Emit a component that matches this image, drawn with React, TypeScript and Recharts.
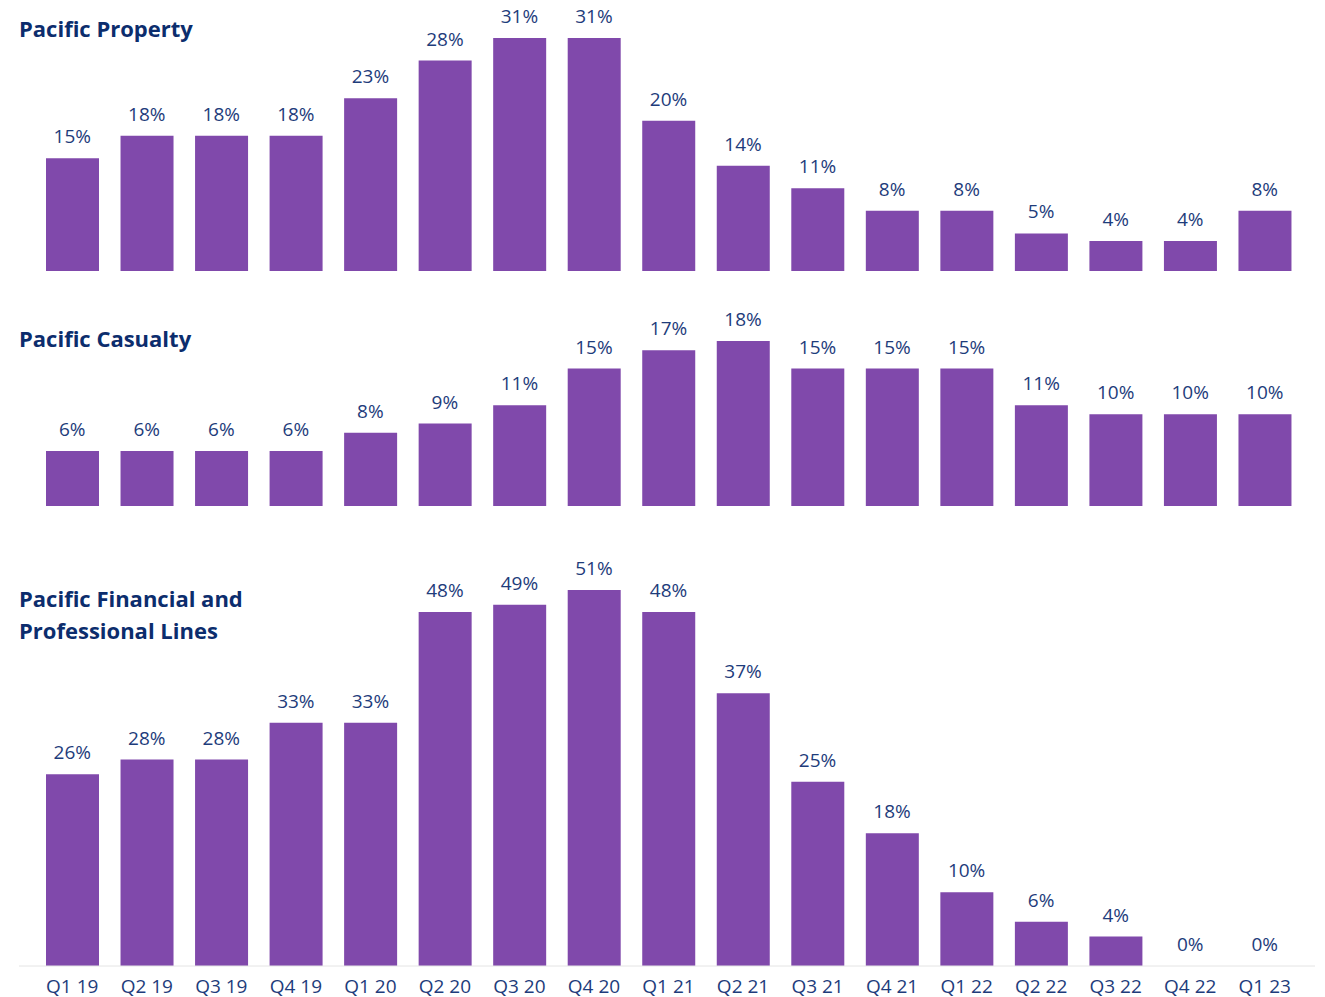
import { Bar, ComposedChart, LabelList, Line, XAxis, YAxis } from 'recharts';

const quarters = [
  'Q1 19', 'Q2 19', 'Q3 19', 'Q4 19', 'Q1 20', 'Q2 20', 'Q3 20', 'Q4 20', 'Q1 21',
  'Q2 21', 'Q3 21', 'Q4 21', 'Q1 22', 'Q2 22', 'Q3 22', 'Q4 22', 'Q1 23'
];
const property = [15, 18, 18, 18, 23, 28, 31, 31, 20, 14, 11, 8, 8, 5, 4, 4, 8];
const casualty = [6, 6, 6, 6, 8, 9, 11, 15, 17, 18, 15, 15, 15, 11, 10, 10, 10];
const financial = [26, 28, 28, 33, 33, 48, 49, 51, 48, 37, 25, 18, 10, 6, 4, 0, 0];

const barColor = '#8049ab';
const labelColor = '#1e3c7b';
const titleColor = '#0c2d6d';
const font = '"Open Sans", sans-serif';

type PanelProps = {
  values: number[];
  top: number;
  height: number;
  marginTop: number;
  marginBottom: number;
  showTicks?: boolean;
};

function Panel({ values, top, height, marginTop, marginBottom, showTicks }: PanelProps) {
  const data = quarters.map((q, i) => ({ q, v: values[i] }));
  const max = Math.max(...values);
  return (
    <div style={{ position: 'absolute', left: 0, top }}>
      <ComposedChart
        width={1325}
        height={height}
        data={data}
        margin={{ top: marginTop, right: 10, bottom: marginBottom, left: 19 }}
      >
        <XAxis
          dataKey="q"
          padding={{ left: 16, right: 13 }}
          axisLine={{ stroke: '#e4e4e4' }}
          tickLine={false}
          height={showTicks ? 31 : 0}
          tick={showTicks ? { fill: labelColor, fontSize: 19, fontFamily: font } : false}
          tickSize={6}
          tickMargin={8}
          interval={0}
        />
        <YAxis hide domain={[0, max]} />
        <Bar dataKey="v" fill={barColor} barSize={53} isAnimationActive={false} />
        {/* invisible line only carries the value labels, so 0% still gets one */}
        <Line dataKey="v" stroke="none" dot={false} activeDot={false} isAnimationActive={false}>
          <LabelList
            dataKey="v"
            position="top"
            offset={15}
            formatter={(v: number) => `${v}%`}
            style={{ fill: labelColor, fontSize: 19, fontFamily: font }}
          />
        </Line>
      </ComposedChart>
    </div>
  );
}

const titleStyle = {
  position: 'absolute' as const,
  left: 19,
  fontFamily: font,
  fontWeight: 700,
  fontSize: 22,
  lineHeight: '32px',
  color: titleColor,
  whiteSpace: 'nowrap' as const
};

export default function App() {
  return (
    <div style={{ position: 'absolute', left: 0, top: 0, width: 1325, height: 997, background: '#fff', overflow: 'hidden' }}>
      <Panel values={property} top={0} height={280} marginTop={38} marginBottom={9} />
      <Panel values={casualty} top={280} height={240} marginTop={61} marginBottom={14} />
      <Panel values={financial} top={520} height={490} marginTop={70} marginBottom={13} showTicks />
      <div style={{ ...titleStyle, top: 12 }}>Pacific Property</div>
      <div style={{ ...titleStyle, top: 322 }}>Pacific Casualty</div>
      <div style={{ ...titleStyle, top: 582 }}>
        Pacific Financial and
        <br />
        Professional Lines
      </div>
    </div>
  );
}
